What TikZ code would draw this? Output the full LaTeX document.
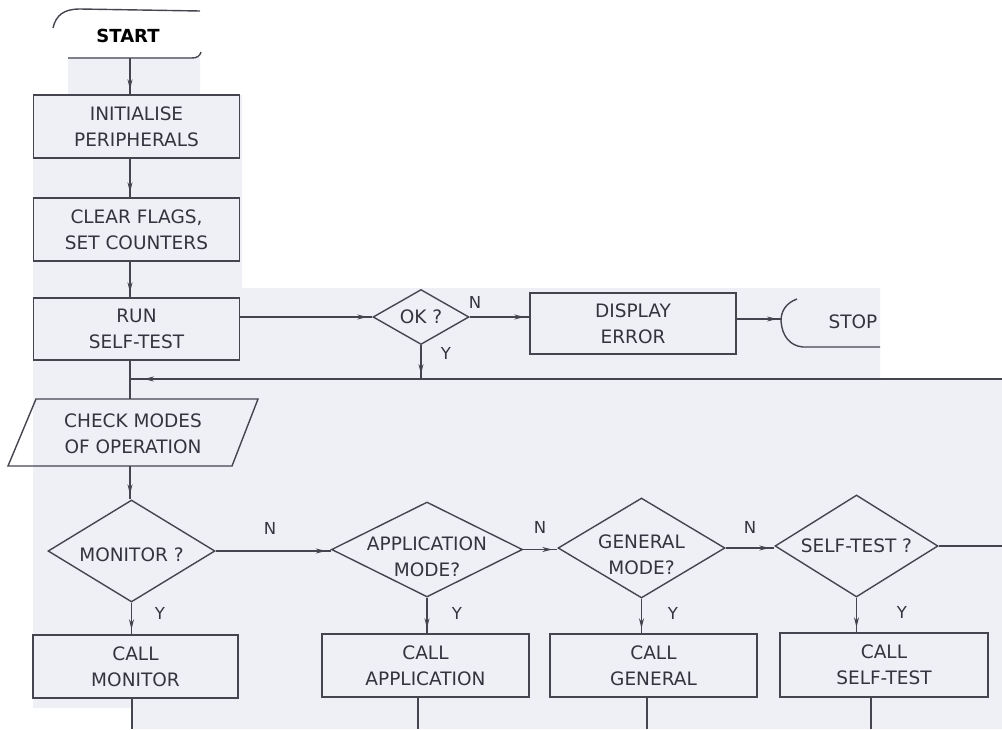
\documentclass[tikz,border=0pt]{standalone}
\usepackage{fontspec}
\setmainfont{DejaVu Sans}
\usetikzlibrary{shapes.geometric,decorations.markings,arrows.meta}
\definecolor{bgscan}{HTML}{EEF0F6}
\definecolor{ink}{HTML}{45454F}
\definecolor{txtc}{HTML}{34343F}
\begin{document}
\begin{tikzpicture}[x=1pt,y=-1pt,
  every node/.style={font=\fontsize{18.5}{26}\selectfont, text=txtc, align=center},
  proc/.style={draw=ink, line width=1.4pt, rectangle, minimum width=206pt, minimum height=63pt, inner sep=0pt},
  dec/.style={draw=ink, line width=1.4pt, diamond, inner sep=0pt},
  lbl/.style={font=\fontsize{16.5}{18}\selectfont},
  conn/.style={color=ink, line width=1.4pt},
  flow/.style={conn, postaction={decorate}, decoration={markings, mark=at position -5pt with {\arrow{Stealth[length=10pt,width=5pt]}}}},
]
\useasboundingbox (0,0) rectangle (1002,729);
% scanned background
\fill[bgscan] (68,57) -- (200,57) -- (200,95) -- (242,95) -- (242,288) -- (880,288) -- (880,378) -- (1002,378) -- (1002,729) -- (133,729) -- (133,708) -- (33,708) -- (33,95) -- (68,95) -- cycle;

% START terminal (partly visible)
\node[text=black, font=\fontsize{18}{20}\selectfont\bfseries] (start) at (128,36) {START};
\draw[conn] (53,28) .. controls (56,15) and (64,9) .. (80,9) -- (200,11);
\draw[conn] (68,58) -- (192,58) .. controls (197,58) and (200,56) .. (201,52);
\coordinate (startb) at (130,58);

\node[proc] (init) at (136.5,126.5) {INITIALISE\\PERIPHERALS};
\node[proc] (clear) at (136.5,229.5) {CLEAR FLAGS,\\SET COUNTERS};
\node[proc, minimum height=62pt] (run) at (136.5,329) {RUN\\SELF-TEST};

\draw[flow] (startb) -- (startb |- init.north);
\draw[flow] (init.south -| startb) -- (clear.north -| startb);
\draw[flow] (clear.south -| startb) -- (run.north -| startb);

% OK? decision
\node[dec, minimum width=96pt, minimum height=55pt] (ok) at (421,317) {};
\node (okt) at (ok.center) {OK ?};
\node[lbl] (okn) at (475,302) {N};
\node[lbl] (oky) at (446,353) {Y};
\draw[flow] (ok.west -| run.east) -- (ok.west);

\node[proc, minimum height=61pt] (disp) at (633,323.5) {DISPLAY\\ERROR};
\draw[flow] (ok.east) -- (ok.east -| disp.west);

% STOP terminal (partly visible)
\coordinate (stopl) at (782,319);
\node (stop) at (853,322) {STOP};
\draw[conn] (797,299) .. controls (786,303) and (781,311) .. (781,321) .. controls (782,336) and (790,346) .. (803,347) -- (880,347);
\draw[flow] (disp.east |- stopl) -- (stopl);

% feedback line
\coordinate (fbR) at (1002,379);
\coordinate (fbL) at (130,379);
\draw[conn, postaction={decorate}, decoration={markings, mark=at position -14pt with {\arrow{Stealth[length=10pt,width=5pt]}}}] (fbR) -- (fbL);
\draw[flow] (ok.south) -- (ok.south |- fbL);

% check modes
\coordinate (chkT) at (130,399);
\coordinate (chkB) at (130,466);
\draw[conn] (run.south -| startb) -- (chkT);
\draw[conn, line join=miter] (36,399) -- (258,399) -- (232,466) -- (8,466) -- cycle;
\node (check) at (133,434) {CHECK MODES\\OF OPERATION};

% decisions row
\node[dec, minimum width=167pt, minimum height=102pt] (mon) at (131.5,551) {};
\node (mont) at ([yshift=-4pt]mon.center) {MONITOR ?};
\node[dec, minimum width=191pt, minimum height=95pt] (app) at (427,549.5) {};
\node (appt) at ([yshift=-7pt]app.center) {APPLICATION\\MODE?};
\node[dec, minimum width=167pt, minimum height=100pt] (gen) at (641.5,548) {};
\node (gent) at ([yshift=-7pt]gen.center) {GENERAL\\MODE?};
\node[dec, minimum width=163pt, minimum height=102pt] (st) at (856.5,546) {};
\node (stt) at (st.center) {SELF-TEST ?};

\draw[flow] (chkB) -- (chkB |- mon.north);
\draw[flow] (mon.east) -- (mon.east -| app.west);
\draw[flow] (app.east) -- (app.east -| gen.west);
\draw[flow] (gen.east) -- (gen.east -| st.west);
\coordinate (stR) at (1002,546);
\draw[conn] (st.east) -- (stR);

\node[lbl] (monn) at (270,528) {N};
\node[lbl] (mony) at (160,613) {Y};
\node[lbl] (appn) at (540,527) {N};
\node[lbl] (appy) at (457,613) {Y};
\node[lbl] (genn) at (750,527) {N};
\node[lbl] (geny) at (673,613) {Y};
\node[lbl] (sty) at (902,612) {Y};

% call boxes
\node[proc, minimum width=205pt] (mb) at (135.5,666.5) {CALL\\MONITOR};
\node[proc, minimum width=207pt] (ab) at (425.5,665.5) {CALL\\APPLICATION};
\node[proc, minimum width=207pt] (gb) at (653.5,665.5) {CALL\\GENERAL};
\node[proc, minimum width=208pt, minimum height=64pt] (sb) at (884,665) {CALL\\SELF-TEST};

\draw[flow] (mon.south) -- (mon.south |- mb.north);
\draw[flow] (app.south) -- (app.south |- ab.north);
\draw[flow] (gen.south) -- (gen.south |- gb.north);
\draw[flow] (st.south) -- (st.south |- sb.north);

\coordinate (mbo) at (132,729);
\coordinate (abo) at (418,729);
\coordinate (gbo) at (647,729);
\coordinate (sbo) at (871,729);
\draw[conn] (mbo |- mb.south) -- (mbo);
\draw[conn] (abo |- ab.south) -- (abo);
\draw[conn] (gbo |- gb.south) -- (gbo);
\draw[conn] (sbo |- sb.south) -- (sbo);
\end{tikzpicture}
\end{document}
